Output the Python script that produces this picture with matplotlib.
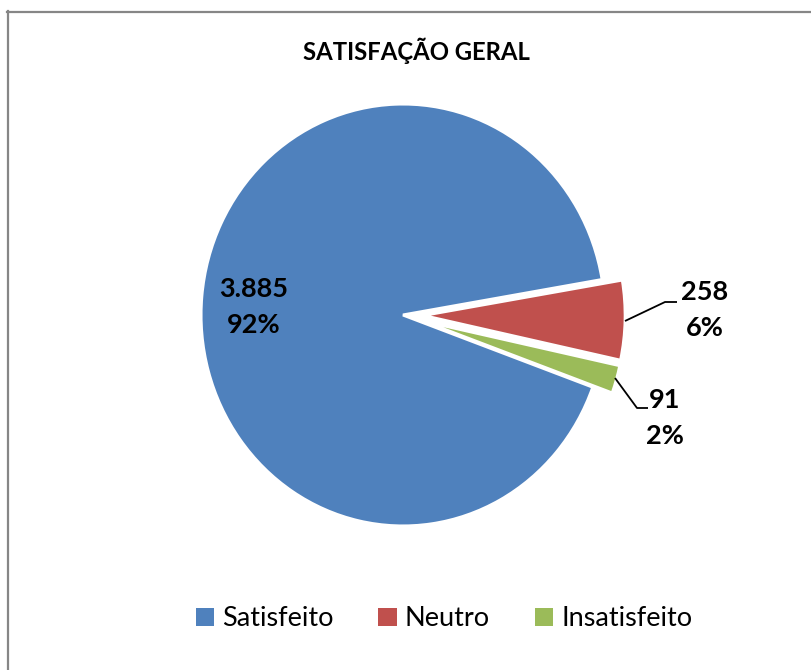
import matplotlib
matplotlib.use("Agg")
import matplotlib.pyplot as plt
from matplotlib.lines import Line2D
from matplotlib.patches import Patch

# ---- data ----
categories = ["Satisfeito", "Neutro", "Insatisfeito"]
values = [3885, 258, 91]
value_labels = ["3.885", "258", "91"]
title = "SATISFAÇÃO GERAL"

# ---- style ----
colors = ["#4F81BD", "#C0504D", "#9BBB59"]
explode = [0.0, 0.1, 0.1]
FONT = ["Lato", "DejaVu Sans"]

W, H = 812, 670
fig = plt.figure(figsize=(W / 100, H / 100), dpi=100)
fig.patch.set_facecolor("white")

# pie geometry in pixels
cx, cy_top = 403, 315
rx, ry = 202, 211
cy = H - cy_top

ax = fig.add_axes([0, 0, 1, 1])
wedges, _ = ax.pie(values, colors=colors, explode=explode, startangle=340,
                   counterclock=False, radius=1.0,
                   wedgeprops=dict(edgecolor="white", linewidth=2.2))
ax.set_aspect("auto")
ax.set_xlim(-cx / rx, (W - cx) / rx)
ax.set_ylim(-cy / ry, (H - cy) / ry)
ax.axis("off")

total = sum(values)
pcts = [f"{round(v / total * 100):d}%" for v in values]

def px(x, y_top):
    return (x - cx) / rx, ((H - y_top) - cy) / ry

label_pos = [(254, 307), (705, 310), (665, 418)]
for (x, y), vl, p in zip(label_pos, value_labels, pcts):
    tx, ty = px(x, y)
    ax.text(tx, ty, f"{vl}\n{p}", ha="center", va="center", fontsize=19.5,
            fontweight="bold", family=FONT, linespacing=1.6, color="black")

leaders = [[(625, 321), (665, 302), (677, 302)],
           [(615, 378), (637, 408), (648, 408)]]
for pts in leaders:
    xs, ys = zip(*[px(a, b) for a, b in pts])
    ax.plot(xs, ys, color="black", lw=1.3, solid_capstyle="butt")

# title
fig.text(416 / W, 1 - 51 / H, title, ha="center", va="center", fontsize=17.2,
         fontweight="bold", family=FONT)

# legend
handles = [Patch(facecolor=c, edgecolor="none", label=l) for c, l in zip(colors, categories)]
leg = fig.legend(handles=handles, loc="center", bbox_to_anchor=(444 / W, 1 - 619 / H),
                 ncol=3, frameon=False, prop=dict(family=FONT, size=19.5),
                 handlelength=0.68, handleheight=0.68, handletextpad=0.3,
                 columnspacing=1.65)

# chart border (top and left visible)
border_c = "#868686"
fig.add_artist(Line2D([7 / W, 1.0], [1 - 12 / H, 1 - 12 / H], color=border_c,
                      lw=1.6, transform=fig.transFigure))
fig.add_artist(Line2D([8 / W, 8 / W], [0.0, 1 - 11 / H], color=border_c,
                      lw=1.6, transform=fig.transFigure))

fig.savefig("out.png", dpi=100, facecolor="white")
